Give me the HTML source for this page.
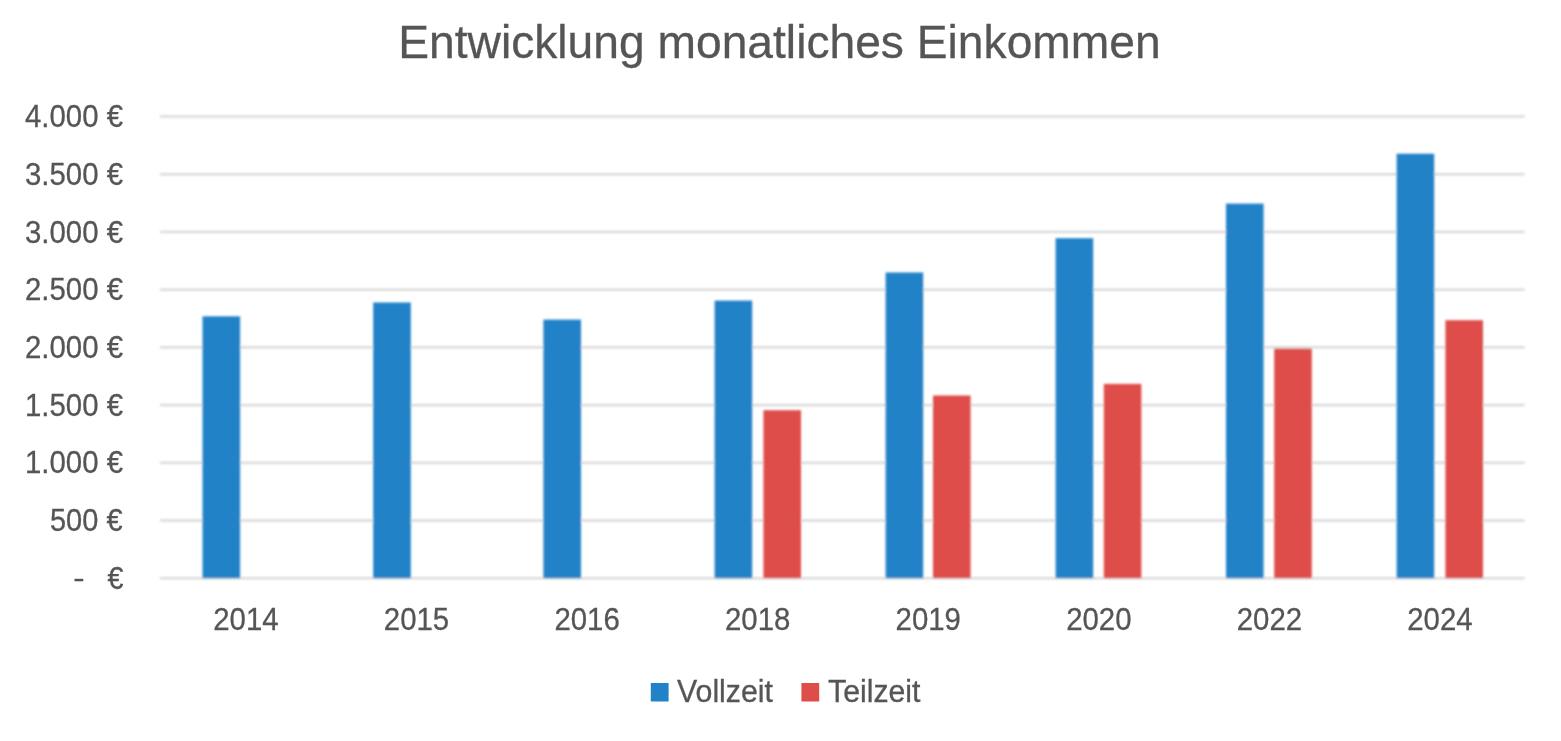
<!DOCTYPE html>
<html><head><meta charset="utf-8"><title>Entwicklung monatliches Einkommen</title>
<style>
html,body{margin:0;padding:0;background:#fff;}
body{width:1561px;height:741px;overflow:hidden;}
svg{display:block;}
text{font-family:"Liberation Sans",sans-serif;fill:#555555;stroke:#555555;stroke-width:0.3px;}
</style></head><body>
<svg width="1561" height="741" viewBox="0 0 1561 741">
<rect width="1561" height="741" fill="#ffffff"/>
<g filter="url(#b)">
<rect x="160.0" y="115.30" width="1364.6" height="2.4" fill="#d9d9d9"/>
<rect x="160.0" y="173.01" width="1364.6" height="2.4" fill="#d9d9d9"/>
<rect x="160.0" y="230.73" width="1364.6" height="2.4" fill="#d9d9d9"/>
<rect x="160.0" y="288.44" width="1364.6" height="2.4" fill="#d9d9d9"/>
<rect x="160.0" y="346.15" width="1364.6" height="2.4" fill="#d9d9d9"/>
<rect x="160.0" y="403.86" width="1364.6" height="2.4" fill="#d9d9d9"/>
<rect x="160.0" y="461.58" width="1364.6" height="2.4" fill="#d9d9d9"/>
<rect x="160.0" y="519.29" width="1364.6" height="2.4" fill="#d9d9d9"/>
<rect x="160.0" y="577.00" width="1364.6" height="2.4" fill="#d9d9d9"/>
<rect x="202.5" y="316.3" width="37.6" height="261.90" fill="#2382c8"/>
<rect x="373.2" y="302.5" width="37.6" height="275.70" fill="#2382c8"/>
<rect x="543.4" y="319.6" width="37.6" height="258.60" fill="#2382c8"/>
<rect x="714.6" y="300.6" width="37.6" height="277.60" fill="#2382c8"/>
<rect x="763.4" y="410.2" width="37.6" height="168.00" fill="#de4e49"/>
<rect x="885.6" y="272.5" width="37.6" height="305.70" fill="#2382c8"/>
<rect x="933.0" y="395.5" width="37.6" height="182.70" fill="#de4e49"/>
<rect x="1055.6" y="238.2" width="37.6" height="340.00" fill="#2382c8"/>
<rect x="1103.8" y="383.9" width="37.6" height="194.30" fill="#de4e49"/>
<rect x="1226.0" y="203.6" width="37.6" height="374.60" fill="#2382c8"/>
<rect x="1274.2" y="348.6" width="37.6" height="229.60" fill="#de4e49"/>
<rect x="1396.6" y="153.7" width="37.6" height="424.50" fill="#2382c8"/>
<rect x="1445.4" y="320.2" width="37.6" height="258.00" fill="#de4e49"/>
</g><g filter="url(#t)">
<text x="398.2" y="58" font-size="47" textLength="762.5" lengthAdjust="spacingAndGlyphs">Entwicklung monatliches Einkommen</text>
<text x="25" y="127.10" font-size="31" textLength="98" lengthAdjust="spacingAndGlyphs">4.000 €</text>
<text x="25" y="184.81" font-size="31" textLength="98" lengthAdjust="spacingAndGlyphs">3.500 €</text>
<text x="25" y="242.53" font-size="31" textLength="98" lengthAdjust="spacingAndGlyphs">3.000 €</text>
<text x="25" y="300.24" font-size="31" textLength="98" lengthAdjust="spacingAndGlyphs">2.500 €</text>
<text x="25" y="357.95" font-size="31" textLength="98" lengthAdjust="spacingAndGlyphs">2.000 €</text>
<text x="25" y="415.66" font-size="31" textLength="98" lengthAdjust="spacingAndGlyphs">1.500 €</text>
<text x="25" y="473.38" font-size="31" textLength="98" lengthAdjust="spacingAndGlyphs">1.000 €</text>
<text x="50" y="531.09" font-size="31" textLength="72.5" lengthAdjust="spacingAndGlyphs">500 €</text>
<rect x="74.5" y="578.8" width="8.8" height="2.5" fill="#555555"/>
<text x="107.5" y="589.00" font-size="31" textLength="16" lengthAdjust="spacingAndGlyphs">€</text>
<text x="213.29" y="630.4" font-size="31" textLength="65.3" lengthAdjust="spacingAndGlyphs">2014</text>
<text x="383.86" y="630.4" font-size="31" textLength="65.3" lengthAdjust="spacingAndGlyphs">2015</text>
<text x="554.44" y="630.4" font-size="31" textLength="65.3" lengthAdjust="spacingAndGlyphs">2016</text>
<text x="725.01" y="630.4" font-size="31" textLength="65.3" lengthAdjust="spacingAndGlyphs">2018</text>
<text x="895.59" y="630.4" font-size="31" textLength="65.3" lengthAdjust="spacingAndGlyphs">2019</text>
<text x="1066.16" y="630.4" font-size="31" textLength="65.3" lengthAdjust="spacingAndGlyphs">2020</text>
<text x="1236.74" y="630.4" font-size="31" textLength="65.3" lengthAdjust="spacingAndGlyphs">2022</text>
<text x="1407.31" y="630.4" font-size="31" textLength="65.3" lengthAdjust="spacingAndGlyphs">2024</text>
<rect x="650.8" y="683.0" width="17.8" height="18.5" fill="#2382c8"/>
<text x="677" y="701.8" font-size="31" textLength="96" lengthAdjust="spacingAndGlyphs">Vollzeit</text>
<rect x="801.4" y="683.0" width="17.8" height="18.5" fill="#de4e49"/>
<text x="828" y="701.8" font-size="31" textLength="92.5" lengthAdjust="spacingAndGlyphs">Teilzeit</text>
</g>
<defs><filter id="b" x="0" y="0" width="100%" height="100%" filterUnits="userSpaceOnUse"><feGaussianBlur stdDeviation="0.95"/></filter><filter id="t" x="0" y="0" width="100%" height="100%" filterUnits="userSpaceOnUse"><feGaussianBlur stdDeviation="0.75"/></filter></defs>
</svg></body></html>
